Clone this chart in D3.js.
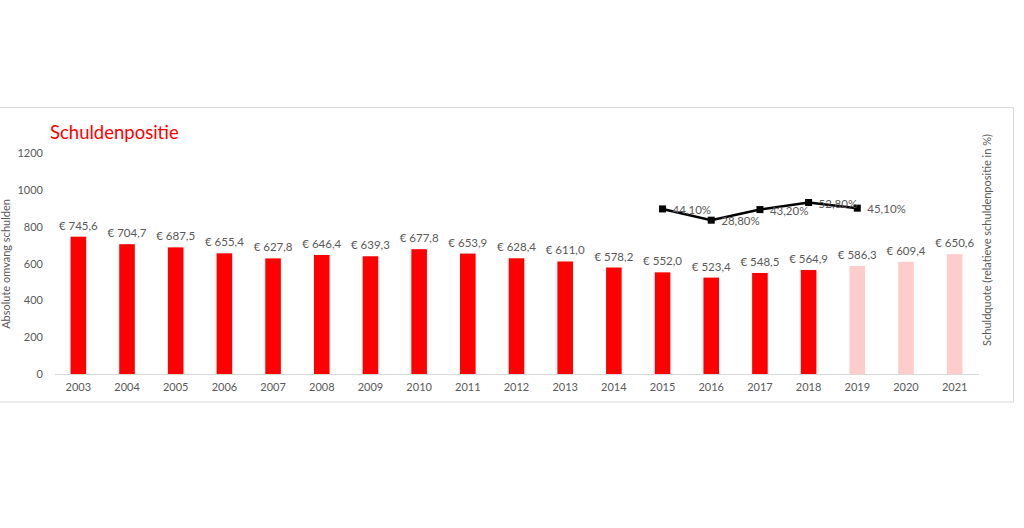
<!DOCTYPE html>
<html>
<head>
<meta charset="utf-8">
<script src="https://cdn.jsdelivr.net/npm/d3@7"></script>
<style>
  body { margin: 0; background: #fff; }
  text { font-family: Lato, "Open Sans", sans-serif; }
</style>
</head>
<body>
<svg id="chart" width="1024" height="528"></svg>
<script>
// chart data
const years = ['2003', '2004', '2005', '2006', '2007', '2008', '2009', '2010', '2011', '2012', '2013', '2014', '2015', '2016', '2017', '2018', '2019', '2020', '2021'];
const debt = [745.6, 704.7, 687.5, 655.4, 627.8, 646.4, 639.3, 677.8, 653.9, 628.4, 611.0, 578.2, 552.0, 523.4, 548.5, 564.9, 586.3, 609.4, 650.6];
const projected = ['2019', '2020', '2021'];
const quoteYears = ['2015', '2016', '2017', '2018', '2019'];
const quote = [44.1, 28.8, 43.2, 52.8, 45.1];
const yTicks = [0, 200, 400, 600, 800, 1000, 1200];

const svg = d3.select('#chart');
const grey = '#595959';
const plot = { left: 54, right: 979, top: 153, bottom: 374 };

// chart frame
svg.append('rect').attr('x', -1).attr('y', 107.5).attr('width', 1014.5).attr('height', 294.5)
  .attr('fill', 'none').attr('stroke', '#d9d9d9');

const x = d3.scaleBand().domain(years).range([plot.left, plot.right]).paddingInner(0.68).paddingOuter(0.34);
const y = d3.scaleLinear().domain([0, 1200]).range([plot.bottom, plot.top]);
const y2 = d3.scaleLinear().domain([-180, 120]).range([plot.bottom, plot.top]);

// title
svg.append('text').attr('x', 50).attr('y', 139).attr('fill', '#ff0000').style('font-size', '18.5px').text('Schuldenpositie');

// left axis (labels only)
const yAxis = svg.append('g').attr('transform', `translate(${plot.left - 8},0)`)
  .call(d3.axisLeft(y).tickValues(yTicks).tickSize(0).tickFormat(d3.format('d')));
yAxis.select('.domain').remove();
yAxis.selectAll('text').attr('fill', grey).style('font-size', '11px').style('font-family', 'Lato, sans-serif');

// baseline
svg.append('line').attr('x1', plot.left + 1).attr('x2', plot.right).attr('y1', plot.bottom + 0.5).attr('y2', plot.bottom + 0.5)
  .attr('stroke', '#d9d9d9');

// x axis labels
const xAxis = svg.append('g').attr('transform', `translate(0,${plot.bottom + 6})`)
  .call(d3.axisBottom(x).tickSize(0));
xAxis.select('.domain').remove();
xAxis.selectAll('text').attr('fill', grey).style('font-size', '11px').style('font-family', 'Lato, sans-serif');

// axis titles
svg.append('text').attr('transform', 'translate(10,264) rotate(-90)').attr('text-anchor', 'middle')
  .attr('fill', grey).style('font-size', '11px').text('Absolute omvang  schulden');
svg.append('text').attr('transform', 'translate(991,240) rotate(-90)').attr('text-anchor', 'middle')
  .attr('fill', grey).style('font-size', '11px').text('Schuldquote (relatieve schuldenpositie in %)');

// bars
const fmt = v => '€ ' + d3.format('.1f')(v).replace('.', ',');
svg.append('g').selectAll('rect').data(years).join('rect')
  .attr('x', d => x(d)).attr('width', x.bandwidth())
  .attr('y', (d, i) => y(debt[i])).attr('height', (d, i) => y(0) - y(debt[i]))
  .attr('fill', d => projected.includes(d) ? '#ffcccc' : '#ff0000');

svg.append('g').selectAll('text').data(years).join('text')
  .attr('x', d => x(d) + x.bandwidth() / 2).attr('y', (d, i) => y(debt[i]) - 7)
  .attr('text-anchor', 'middle').attr('fill', grey).style('font-size', '11.5px')
  .text((d, i) => fmt(debt[i]));

// line on secondary axis
const cx = d => x(d) + x.bandwidth() / 2;
const line = d3.line().x((d, i) => cx(quoteYears[i])).y(d => y2(d));
svg.append('path').datum(quote).attr('d', line).attr('fill', 'none').attr('stroke', '#000').attr('stroke-width', 2.5);
svg.append('g').selectAll('rect').data(quote).join('rect')
  .attr('x', (d, i) => cx(quoteYears[i]) - 3.5).attr('y', d => y2(d) - 3.5)
  .attr('width', 7).attr('height', 7).attr('fill', '#000');
svg.append('g').selectAll('text').data(quote).join('text')
  .attr('x', (d, i) => cx(quoteYears[i]) + 10).attr('y', d => y2(d) + 5)
  .attr('fill', grey).style('font-size', '11.5px')
  .text(d => d3.format('.2f')(d).replace('.', ',') + '%');
</script>
</body>
</html>
